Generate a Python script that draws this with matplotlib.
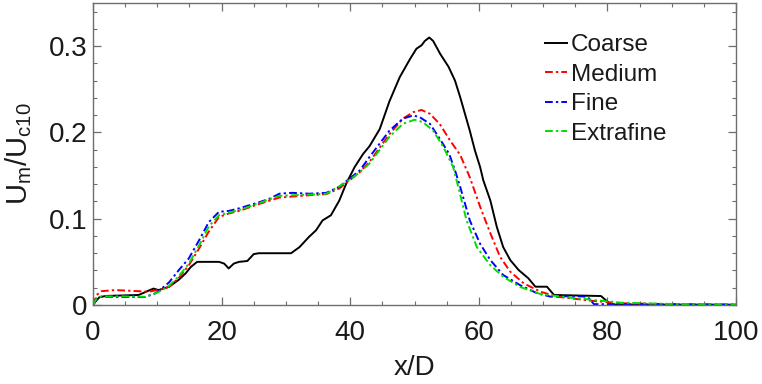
import matplotlib
matplotlib.use("Agg")
import matplotlib.pyplot as plt
from matplotlib.ticker import MultipleLocator

# ---- data ----
coarse_x = [0, 0.5, 1, 2, 7.1, 8.6, 9.4, 10.2, 11.8, 13.3, 14.4, 15.2, 16.2, 19.6, 20.4, 21.1, 21.9,
            22.7, 24.0, 25.0, 25.8, 30.8, 32.1, 33.6, 34.7, 35.7, 37.0, 38.3, 39.4, 40.7, 42.0, 43.0,
            44.6, 46.1, 47.7, 49.3, 50.3, 51.1, 51.6, 52.3, 52.9, 54.0, 55.3, 56.3, 57.1, 58.6, 59.4,
            60.2, 60.7, 61.8, 62.8, 63.8, 64.9, 66.2, 67.7, 68.8, 70.6, 71.7, 79.0, 80.0, 80.5, 100]
coarse_y = [0, 0.005, 0.009, 0.0105, 0.0116, 0.0165, 0.019, 0.0173, 0.021, 0.029, 0.0366, 0.044, 0.050,
            0.050, 0.048, 0.0424, 0.048, 0.050, 0.051, 0.059, 0.060, 0.060, 0.067, 0.079, 0.0867, 0.098,
            0.104, 0.121, 0.141, 0.160, 0.175, 0.184, 0.204, 0.236, 0.264, 0.285, 0.297, 0.301, 0.306,
            0.310, 0.306, 0.291, 0.276, 0.260, 0.241, 0.202, 0.179, 0.160, 0.1445, 0.121, 0.0905,
            0.067, 0.052, 0.0405, 0.031, 0.0212, 0.0212, 0.0116, 0.0104, 0.004, 0.0005, 0.0003]

medium_x = [0, 0.56, 1.3, 3.4, 7.1, 8.6, 10.2, 11.8, 13.3, 14.9, 16.5, 18.0, 19.6, 21.1, 22.7, 25.8,
            29.0, 31.0, 33.6, 36.3, 38.3, 39.9, 41.5, 43.0, 46.1, 48.2, 49.8, 51.1, 52.4, 53.9, 55.5,
            57.1, 58.6, 60.2, 61.8, 63.3, 64.9, 67.0, 69.6, 72.2, 77.4, 82.1, 90, 100]
medium_y = [0, 0.0116, 0.016, 0.0173, 0.016, 0.0154, 0.0175, 0.021, 0.031, 0.046, 0.0655, 0.085, 0.102,
            0.106, 0.109, 0.117, 0.1245, 0.1257, 0.1272, 0.1285, 0.135, 0.1445, 0.154, 0.166, 0.198,
            0.216, 0.2235, 0.226, 0.2216, 0.210, 0.191, 0.174, 0.148, 0.114, 0.083, 0.056, 0.0385,
            0.025, 0.0154, 0.0096, 0.005, 0.002, 0.001, 0.0005]

fine_x = [0, 0.56, 1.3, 4.5, 8.1, 9.7, 10.2, 11.8, 13.3, 14.9, 16.5, 18.0, 19.6, 21.1, 22.7, 25.8,
          27.4, 29.0, 31.0, 33.6, 36.3, 38.3, 39.9, 41.5, 43.0, 46.1, 48.2, 49.8, 50.8, 52.4, 53.9,
          55.4, 56.3, 57.1, 58.6, 60.2, 61.8, 63.8, 66.4, 69.1, 71.2, 74.8, 76.9, 77.9, 100]
fine_y = [0, 0.0077, 0.0096, 0.0092, 0.0092, 0.0135, 0.016, 0.026, 0.040, 0.054, 0.075, 0.096, 0.108,
          0.109, 0.112, 0.119, 0.123, 0.129, 0.130, 0.129, 0.130, 0.137, 0.1465, 0.156, 0.1715,
          0.202, 0.216, 0.2197, 0.2177, 0.210, 0.193, 0.175, 0.156, 0.137, 0.098, 0.071, 0.052,
          0.0347, 0.0231, 0.0135, 0.0096, 0.0104, 0.0096, 0.001, 0.0002]

extra_x = [0, 0.56, 1.3, 4.5, 8.1, 10.2, 11.8, 13.3, 14.9, 16.5, 18.0, 19.6, 21.1, 22.7, 25.8, 29.0,
           33.6, 36.3, 38.3, 39.9, 41.5, 43.0, 46.1, 48.2, 50.0, 51.3, 52.9, 54.5, 56.0, 56.6, 58.1,
           59.7, 61.8, 63.8, 66.4, 69.6, 73.8, 79.0, 82.1, 90, 100]
extra_y = [0, 0.0077, 0.0100, 0.0100, 0.0095, 0.015, 0.022, 0.033, 0.048, 0.069, 0.091, 0.104, 0.107,
           0.110, 0.118, 0.1265, 0.128, 0.129, 0.1375, 0.145, 0.154, 0.164, 0.195, 0.210, 0.2147,
           0.212, 0.202, 0.183, 0.160, 0.143, 0.098, 0.067, 0.046, 0.0327, 0.021, 0.0127, 0.0089,
           0.005, 0.0027, 0.0012, 0.0006]

labels = ["Coarse", "Medium", "Fine", "Extrafine"]
colors = ["black", "#ff0000", "#0000ff", "#00dd00"]
xticks = [0, 20, 40, 60, 80, 100]
xticklabels = ["0", "20", "40", "60", "80", "100"]
yticks = [0, 0.1, 0.2, 0.3]
yticklabels = ["0", "0.1", "0.2", "0.3"]

# ---- font ----
fam = "Liberation Sans"
plt.rcParams["font.family"] = [fam, "DejaVu Sans"]
plt.rcParams["mathtext.fontset"] = "custom"
plt.rcParams["mathtext.rm"] = fam
plt.rcParams["mathtext.it"] = fam
plt.rcParams["mathtext.default"] = "regular"

fig = plt.figure(figsize=(7.62, 3.84), dpi=100)
ax = fig.add_axes([93 / 762, 1 - 305 / 384, (736 - 93) / 762, (305 - 3) / 384])

dash = (0, (4, 1.6, 1.2, 1.6))
ax.plot(coarse_x, coarse_y, color=colors[0], lw=1.4, ls="-", label=labels[0])
ax.plot(medium_x, medium_y, color=colors[1], lw=1.4, ls=dash, label=labels[1])
ax.plot(fine_x, fine_y, color=colors[2], lw=1.4, ls=dash, label=labels[2])
ax.plot(extra_x, extra_y, color=colors[3], lw=1.4, ls=dash, label=labels[3])

ax.set_xlim(0, 100)
ax.set_ylim(0, 0.35)
ax.xaxis.set_minor_locator(MultipleLocator(5))
ax.yaxis.set_minor_locator(MultipleLocator(0.02))
ax.set_xticks(xticks)
ax.set_xticklabels(xticklabels)
ax.set_yticks(yticks)
ax.set_yticklabels(yticklabels)

spine_c = "#6e6e6e"
for s in ax.spines.values():
    s.set_color(spine_c)
    s.set_linewidth(1.0)
ax.tick_params(which="both", direction="in", top=True, right=True, colors=spine_c,
               labelcolor="#1a1a1a", labelsize=20)
ax.tick_params(which="major", length=6, width=0.9)
ax.tick_params(which="minor", length=3, width=0.8)
ax.tick_params(axis="x", which="major", pad=11)
ax.tick_params(axis="y", which="major", pad=4)

ax.set_xlabel("x/D", fontsize=20, color="#1a1a1a", labelpad=6)
ax.set_ylabel("$U_m/U_{c10}$", fontsize=21, color="#1a1a1a", labelpad=11)

leg = ax.legend(loc="upper left", bbox_to_anchor=((545 - 93) / 643, (305 - 34) / 302),
                frameon=False, fontsize=17.5, handlelength=0.9, handletextpad=0.15,
                labelspacing=0.31, borderaxespad=0, borderpad=0)
for t in leg.get_texts():
    t.set_color("#1a1a1a")

fig.savefig("out.png", dpi=100)
